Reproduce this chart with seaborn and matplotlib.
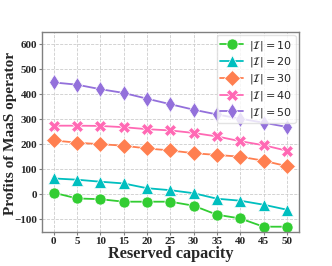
import matplotlib
matplotlib.use('Agg')
import matplotlib.pyplot as plt
import pandas as pd
import seaborn as sns

# capacidade reservada (eixo x)
capacidade = [0, 5, 10, 15, 20, 25, 30, 35, 40, 45, 50]

# lucros do operador para cada |I|
lucro_10 = [7, -16, -19, -29, -29, -29, -45, -81, -96, -129, -129]
lucro_20 = [64, 59, 51, 44, 25, 17, 5, -17, -25, -41, -61]
lucro_30 = [216, 207, 201, 195, 184, 176, 165, 158, 151, 135, 113]
lucro_40 = [275, 275, 274, 269, 261, 256, 246, 232, 213, 197, 175]
lucro_50 = [448, 439, 421, 406, 383, 361, 339, 320, 303, 287, 270]

rotulos = [r'$|\mathcal{I}| = 10$', r'$|\mathcal{I}| = 20$',
           r'$|\mathcal{I}| = 30$', r'$|\mathcal{I}| = 40$',
           r'$|\mathcal{I}| = 50$']
cores = ['limegreen', 'c', 'coral', 'hotpink', 'mediumpurple']
marcadores = ['o', '^', 'D', 'X', 'd']

series = [lucro_10, lucro_20, lucro_30, lucro_40, lucro_50]
linhas = []
for rot, vals in zip(rotulos, series):
    for c, v in zip(capacidade, vals):
        linhas.append({'cap': c, 'lucro': v, 'grupo': rot})
df = pd.DataFrame(linhas)

sns.set_style('whitegrid')

fig = plt.figure(figsize=(3.32, 2.66), dpi=100)
ax = fig.add_axes([0.1265, 0.128, 0.774, 0.752])

sns.lineplot(data=df, x='cap', y='lucro', hue='grupo', style='grupo',
             palette=cores, markers=marcadores, dashes=False,
             markersize=8, markeredgewidth=0.5, linewidth=1.3, ax=ax)

ax.set_xlim(-2.5, 52.6)
ax.set_ylim(-150, 650)
ax.set_xticks(capacidade)
ax.set_yticks([-100, 0, 100, 200, 300, 400, 500, 600])

fonte_serif = {'family': 'Liberation Serif', 'weight': 'bold'}
for t in ax.get_xticklabels() + ax.get_yticklabels():
    t.set_fontfamily('Liberation Serif')
    t.set_fontweight('bold')
    t.set_fontsize(8)
ax.tick_params(axis='both', length=2, pad=1.5, color='gray', left=True, bottom=True)

ax.set_xlabel('Reserved capacity', fontdict=fonte_serif, fontsize=11.7, labelpad=0)
ax.set_ylabel('Profits of MaaS operator', fontdict=fonte_serif, fontsize=11)
ax.yaxis.set_label_coords(-0.098, 0.49)

ax.grid(True, linestyle='--', color='#cccccc', linewidth=0.6)
for s in ax.spines.values():
    s.set_color('gray')
    s.set_linewidth(1.0)

leg = ax.legend(loc='upper right', fontsize=8, handlelength=2.0,
                borderpad=0.3, labelspacing=0.25, handletextpad=0.6,
                borderaxespad=0.3)
leg.get_frame().set_edgecolor('#dddddd')

fig.savefig('out.png', dpi=100)
